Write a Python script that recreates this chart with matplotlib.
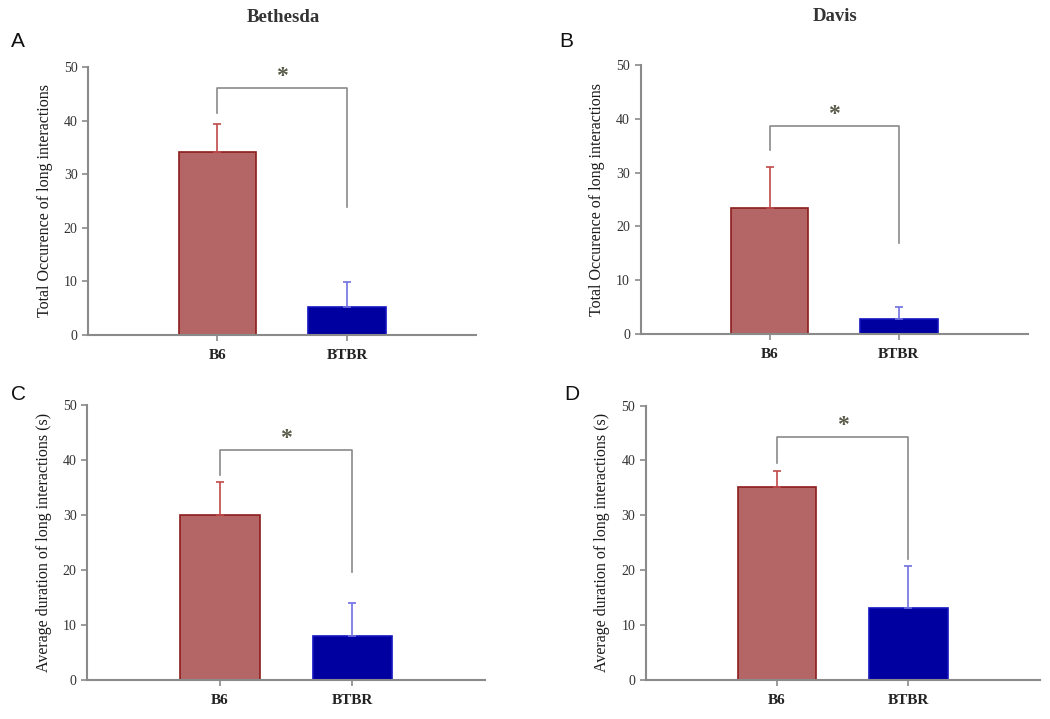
import matplotlib
matplotlib.use("Agg")
import matplotlib.pyplot as plt

# ---- data ----
groups = ["B6", "BTBR"]

occ_bethesda = [34.1, 5.3]
occ_bethesda_err = [5.2, 4.5]
occ_davis = [23.4, 2.8]
occ_davis_err = [7.6, 2.2]

dur_bethesda = [30.0, 8.0]
dur_bethesda_err = [6.0, 6.0]
dur_davis = [35.2, 13.1]
dur_davis_err = [2.9, 7.7]

# significance bracket: (bar height, left leg bottom, right leg bottom)
brk_A = (46.0, 41.4, 23.9)
brk_B = (38.7, 34.2, 16.9)
brk_C = (41.8, 37.3, 19.6)
brk_D = (44.3, 39.6, 22.0)

ylab_occ = "Total Occurence of long interactions"
ylab_dur = "Average duration of long interactions (s)"

plt.rcParams['font.family'] = ['Liberation Serif', 'DejaVu Serif']

bar_fill = ['#b46666', '#0000a0']
bar_edge = ['#8c1c1c', '#1515c0']
err_col = ['#c04a4a', '#7070e0']
axis_col = '#8a8a8a'

fig = plt.figure(figsize=(10.5, 7.19), dpi=100)

def panel(rect, vals, errs, brk, ylabel):
    ax = fig.add_axes(rect)
    xs = [1, 2]
    for i in range(2):
        ax.bar(xs[i], vals[i], width=0.6, color=bar_fill[i], edgecolor=bar_edge[i],
               linewidth=1.2, zorder=2)
        ax.errorbar(xs[i], vals[i], yerr=[[0], [errs[i]]], fmt='none', ecolor=err_col[i],
                    elinewidth=1.2, capsize=3, capthick=1.2, zorder=3)
    top, lb, rb = brk
    ax.plot([1, 1, 2, 2], [lb, top, top, rb], color=axis_col, lw=1.2, zorder=1)
    ax.text(1.5, top + 0.2, "*", ha='center', va='bottom', fontsize=17,
            fontweight='bold', color='#5a5a4a')
    ax.set_xlim(0, 3)
    ax.set_ylim(0, 50)
    ax.set_yticks([0, 10, 20, 30, 40, 50])
    ax.set_xticks(xs)
    ax.set_xticklabels(groups, fontsize=11, color='#222222', fontweight='bold')
    ax.tick_params(axis='y', labelsize=10, colors=axis_col, labelcolor='#333333',
                   length=4, width=1.2, direction='out')
    ax.tick_params(axis='x', length=4, width=1.2, colors=axis_col, labelcolor='#222222',
                   pad=6)
    for s in ['top', 'right']:
        ax.spines[s].set_visible(False)
    for s in ['left', 'bottom']:
        ax.spines[s].set_color(axis_col)
        ax.spines[s].set_linewidth(1.5)
    ax.set_ylabel(ylabel, fontsize=11.5, color='#1a1a1a', labelpad=8)
    return ax

panel([0.0838, 0.534, 0.370, 0.373], occ_bethesda, occ_bethesda_err, brk_A, ylab_occ)
panel([0.610, 0.535, 0.369, 0.375], occ_davis, occ_davis_err, brk_B, ylab_occ)
panel([0.083, 0.054, 0.379, 0.383], dur_bethesda, dur_bethesda_err, brk_C, ylab_dur)
panel([0.615, 0.054, 0.375, 0.382], dur_davis, dur_davis_err, brk_D, ylab_dur)

fig.text(0.270, 0.975, "Bethesda", ha='center', va='center', fontsize=13.5, color='#333333',
         fontweight='bold')
fig.text(0.795, 0.977, "Davis", ha='center', va='center', fontsize=13.5, color='#333333',
         fontweight='bold')

for lbl, x, y in [("A", 0.010, 0.935), ("B", 0.533, 0.935), ("C", 0.010, 0.443), ("D", 0.537, 0.443)]:
    fig.text(x, y, lbl, fontsize=15, family=['Liberation Sans', 'DejaVu Sans'], color='#111111')

fig.savefig("out.png", dpi=100, facecolor='white')
